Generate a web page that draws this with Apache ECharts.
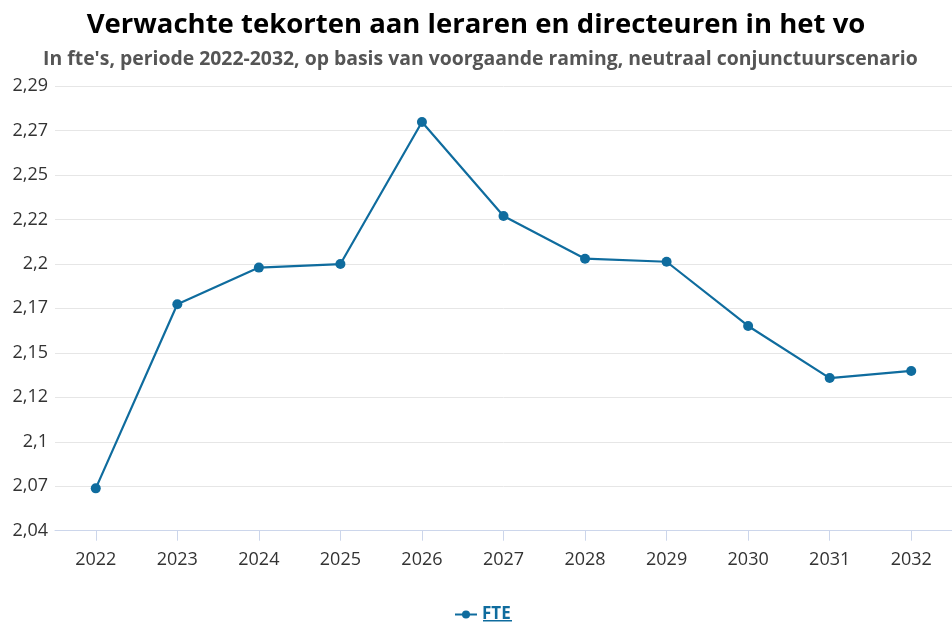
<!DOCTYPE html>
<html>
<head>
<meta charset="utf-8">
<script src="https://cdn.jsdelivr.net/npm/echarts@6/dist/echarts.min.js"></script>
<style>html,body{margin:0;padding:0;background:#fff}#c{width:952px;height:624px}</style>
</head>
<body>
<div id="c"></div>
<script>
var categories = ['2022','2023','2024','2025','2026','2027','2028','2029','2030','2031','2032'];
var fteValues = [2.0688, 2.1723, 2.1929, 2.1949, 2.2748, 2.2219, 2.1979, 2.1962, 2.1601, 2.1308, 2.1348];
var yTickLabels = ['2,04','2,07','2,1','2,12','2,15','2,17','2,2','2,22','2,25','2,27','2,29'];
var yMin = 2.045, yMax = 2.295, yStep = 0.025;
var seriesName = 'FTE';
var titleText = 'Verwachte tekorten aan leraren en directeuren in het vo';
var subtitleText = "In fte's, periode 2022-2032, op basis van voorgaande raming, neutraal conjunctuurscenario";

var blue = '#0f6c9e';
var chart = echarts.init(document.getElementById('c'), null, {renderer: 'canvas'});
chart.setOption({
  animation: false,
  backgroundColor: '#ffffff',
  title: [
    {text: titleText, left: 'center', top: 6,
     textStyle: {fontFamily: 'Open Sans', fontWeight: 'bold', fontSize: 27.5, color: '#000'}},
    {text: subtitleText, left: 38, top: 45,
     textStyle: {fontFamily: 'Open Sans', fontWeight: 'bold', fontSize: 19.4, color: '#555'}}
  ],
  legend: {
    top: 601, left: 449,
    itemWidth: 22, itemHeight: 10, itemGap: 6,
    data: [seriesName],
    textStyle: {fontFamily: 'Open Sans', fontWeight: 'bold', fontSize: 17, color: blue}
  },
  graphic: [{
    type: 'rect', left: 483, top: 620, shape: {width: 29, height: 1.5},
    style: {fill: blue}, silent: true
  }],
  grid: {left: 55, right: -3, top: 86, bottom: 93.3, containLabel: false},
  xAxis: {
    type: 'category', data: categories, boundaryGap: true,
    axisLine: {lineStyle: {color: '#ccd6eb', width: 1}},
    axisTick: {show: true, alignWithLabel: true, length: 10, lineStyle: {color: '#ccd6eb'}},
    axisLabel: {margin: 20, fontFamily: 'Open Sans', fontSize: 18, color: '#333'}
  },
  yAxis: {
    type: 'value', min: yMin, max: yMax, interval: yStep,
    axisLine: {show: false}, axisTick: {show: false},
    splitLine: {lineStyle: {color: '#e6e6e6', width: 1}},
    axisLabel: {margin: 7, fontFamily: 'Open Sans', fontSize: 18, color: '#333',
      formatter: function (v) { return yTickLabels[Math.round((v - yMin) / yStep)] || ''; }}
  },
  series: [{
    name: seriesName, type: 'line', data: fteValues,
    symbol: 'circle', symbolSize: 10,
    lineStyle: {color: blue, width: 2.2},
    itemStyle: {color: blue}
  }]
});
</script>
</body>
</html>
